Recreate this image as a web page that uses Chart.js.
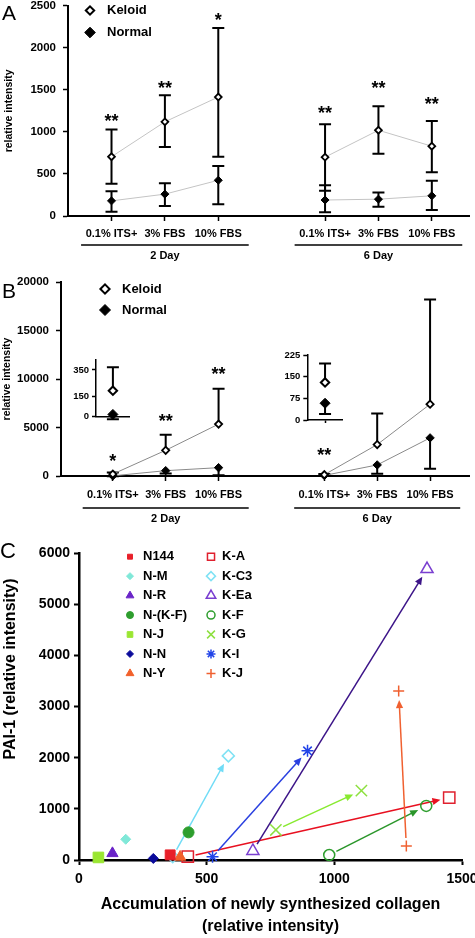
<!DOCTYPE html>
<html>
<head>
<meta charset="utf-8">
<title>Keloid vs normal fibroblasts</title>
<script src="https://cdn.jsdelivr.net/npm/chart.js@4.4.1/dist/chart.umd.min.js"></script>
<style>
  html, body { margin: 0; padding: 0; background: #fff; }
  #wrap { position: relative; width: 475px; height: 938px; overflow: hidden; }
  canvas { position: absolute; }
</style>
</head>
<body>
<div id="wrap">
  <canvas id="panelA" width="475" height="265" style="left:0;top:0"></canvas>
  <canvas id="panelB" width="475" height="265" style="left:0;top:265px"></canvas>
  <canvas id="insetB2" width="80" height="72" style="left:56px;top:352px"></canvas>
  <canvas id="insetB6" width="82" height="80" style="left:267px;top:348px"></canvas>
  <canvas id="panelC" width="475" height="408" style="left:0;top:530px"></canvas>
</div>
<script>
// ---------- DATA ----------
const conditions = ["0.1% ITS+", "3% FBS", "10% FBS"];
const dayGroups = ["2 Day", "6 Day"];
const xSlots = [0, 1, 2, 4, 5, 6];   // slot 3 left empty between the day groups
const groupSlots = [[0, 2], [4, 6]];

// panel A
const aTicks = [0, 500, 1000, 1500, 2000, 2500];
const aKeloid   = [705, 1120, 1415, 700, 1020, 830];
const aKeloidHi = [1030, 1435, 2235, 1090, 1305, 1130];
const aKeloidLo = [385, 820, 705, 300, 740, 520];
const aNormal   = [180, 260, 425, 190, 200, 240];
const aNormalHi = [295, 390, 595, 365, 280, 420];
const aNormalLo = [50, 120, 140, 45, 110, 70];
const aStars = ["**", "**", "*", "**", "**", "**"];
const aStarY = [1175, 1575, 2380, 1270, 1575, 1375];

// panel B (insets re-plot the 0.1% ITS+ points)
const bTicks = [0, 5000, 10000, 15000, 20000];
const bKeloid   = [195, 2650, 5350, 130, 3240, 7400];
const bKeloidHi = [370, 4240, 9000, 196, 6450, 18200];
const bNormal   = [17, 550, 860, 58, 1140, 3930];
const bNormalLo = [-20, 250, 70, 21, 240, 760];
const bStars = ["*", "**", "**", "**", "", ""];
const bStarY = [1960, 6080, 10930, 2580, null, null];
const inset2Ticks = [0, 150, 350];
const inset6Ticks = [0, 75, 150, 225];

// panel C
const cXTicks = [0, 500, 1000, 1500];
const cYTicks = [0, 1000, 2000, 3000, 4000, 5000, 6000];
const normalNames = ["N144", "N-M", "N-R", "N-(K-F)", "N-J", "N-N", "N-Y"];
const normalX = [357, 183, 131, 429, 76, 291, 396];
const normalY = [100, 405, 130, 540, 50, 30, 60];
const keloidNames = ["K-A", "K-C3", "K-Ea", "K-F", "K-G", "K-I", "K-J"];
const keloidLowX  = [426, 367, 681, 980, 771, 523, 1282];
const keloidLowY  = [65, 65, 176, 98, 587, 65, 274];
const keloidHighX = [1450, 585, 1363, 1360, 1106, 895, 1252];
const keloidHighY = [1218, 2035, 5687, 1057, 1356, 2133, 3301];

// ---------- STYLE ----------
const FAMILY = "Arial, 'Liberation Sans', Helvetica, sans-serif";
Chart.defaults.font.family = FAMILY;
Chart.defaults.color = "#000";
Chart.defaults.animation = false;
const bold = size => ({ size, weight: "bold" });
const plain = v => String(v);

const normalStyle = ["rect", "rectRot", "triangle", "circle", "rect", "rectRot", "triangle"];
const normalColor = ["#e8202a", "#80e8d8", "#6a24c8", "#2e9e2e", "#9ae632", "#0a0a9a", "#f2602a"];
const normalSize = [7, 5, 6.5, 5.5, 7.5, 5, 6.5];
const normalLegSize = [3.5, 3.5, 4.5, 3.5, 4, 3.5, 4.5];
const keloidStyle = ["rect", "rectRot", "triangle", "circle", "crossRot", "star", "cross"];
const keloidColor = ["#e0202e", "#80e2f4", "#7a3fd0", "#2e9e2e", "#8ee040", "#2244e8", "#f06030"];
const arrowColor = ["#e81020", "#70dcf6", "#3c1488", "#2a962a", "#88ea30", "#2a40e0", "#f06030"];
const keloidSize = [8, 6, 7, 5.5, 8, 6, 5.5];
const keloidLegSize = [5, 4.5, 5.5, 4, 5.5, 4.5, 4.5];

// ---------- HELPERS ----------
function errorBars(ctx, xs, ys, xv, mean, hi, lo, cap, width) {
  ctx.save();
  ctx.strokeStyle = "#000";
  ctx.lineWidth = width;
  xv.forEach((v, i) => {
    const px = xs.getPixelForValue(v);
    const yTop = ys.getPixelForValue(hi ? hi[i] : mean[i]);
    const yBot = ys.getPixelForValue(lo ? lo[i] : mean[i]);
    ctx.beginPath();
    ctx.moveTo(px, yTop); ctx.lineTo(px, yBot);
    if (hi) { ctx.moveTo(px - cap, yTop); ctx.lineTo(px + cap, yTop); }
    if (lo) { ctx.moveTo(px - cap, yBot); ctx.lineTo(px + cap, yBot); }
    ctx.stroke();
  });
  ctx.restore();
}

function marker(ctx, style, r, x, y, fill, stroke, bw) {
  ctx.save();
  ctx.fillStyle = fill; ctx.strokeStyle = stroke; ctx.lineWidth = bw;
  Chart.helpers.drawPoint(ctx, { pointStyle: style, radius: r, rotation: 0, borderWidth: bw }, x, y);
  ctx.restore();
}

function seriesPoints(vals) {
  const out = [];
  xSlots.forEach((x, i) => {
    if (i === 3) out.push({ x: 3, y: null });
    out.push({ x, y: vals[i] });
  });
  return out;
}

function fixedTicks(list) {
  return s => { s.ticks = list.map(v => ({ value: v })); };
}

// ---------- PANELS A / B ----------
function abDecor(p) {
  return {
    id: "abDecor",
    beforeDatasetsDraw(chart) {
      const { ctx, scales: { x, y } } = chart;
      errorBars(ctx, x, y, xSlots, p.keloid, p.keloidHi, p.keloidLo, 6, 2);
      errorBars(ctx, x, y, xSlots, p.normal, p.normalHi, p.normalLo, 6, 2);
    },
    afterDraw(chart) {
      const { ctx, chartArea, scales: { x, y } } = chart;
      ctx.save();
      ctx.fillStyle = "#000";
      ctx.strokeStyle = "#000";

      ctx.font = "bold 18px " + FAMILY;
      ctx.textAlign = "center";
      ctx.textBaseline = "alphabetic";
      p.stars.forEach((s, i) => {
        if (!s) return;
        ctx.fillText(s, x.getPixelForValue(xSlots[i]), y.getPixelForValue(p.starY[i]) + 10);
      });

      ctx.lineWidth = 1.5;
      ctx.font = "bold 11px " + FAMILY;
      ctx.textBaseline = "middle";
      groupSlots.forEach((g, k) => {
        const x0 = x.getPixelForValue(g[0] - 0.57);
        const x1 = x.getPixelForValue(g[1] + 0.57);
        const yl = chartArea.bottom + p.bracketY;
        ctx.beginPath(); ctx.moveTo(x0, yl); ctx.lineTo(x1, yl); ctx.stroke();
        ctx.fillText(dayGroups[k], (x0 + x1) / 2, chartArea.bottom + p.groupLabelY);
      });

      const L = p.legend;
      marker(ctx, "rectRot", L.kr, L.x, L.y1, "#fff", "#000", 2);
      marker(ctx, "rectRot", L.nr, L.x, L.y2, "#000", "#000", 1);
      ctx.fillStyle = "#000";
      ctx.font = "bold 13px " + FAMILY;
      ctx.textAlign = "left";
      ctx.fillText("Keloid", L.tx, L.y1);
      ctx.fillText("Normal", L.tx, L.y2);

      ctx.font = "21px " + FAMILY;
      ctx.textBaseline = "alphabetic";
      ctx.fillText(p.letter, 2, p.letterY);
      ctx.restore();
    }
  };
}

function buildPanel(p) {
  return new Chart(document.getElementById(p.canvas), {
    type: "line",
    data: {
      datasets: [
        { label: "Keloid", data: seriesPoints(p.keloid), borderColor: p.lineColor, borderWidth: 1,
          pointStyle: "rectRot", pointRadius: p.kr, pointBorderWidth: 1.8, pointBorderColor: "#000",
          pointBackgroundColor: "#fff", spanGaps: false, clip: false },
        { label: "Normal", data: seriesPoints(p.normal), borderColor: p.lineColor, borderWidth: 1,
          pointStyle: "rectRot", pointRadius: p.nr, pointBorderWidth: 1, pointBorderColor: "#000",
          pointBackgroundColor: "#000", spanGaps: false, clip: false }
      ]
    },
    options: {
      responsive: false,
      layout: { padding: { top: p.top, right: 1, left: 0, bottom: 0 } },
      plugins: { legend: { display: false }, tooltip: { enabled: false } },
      scales: {
        x: {
          type: "linear", min: p.xMin, max: p.xMax,
          afterBuildTicks: fixedTicks(xSlots),
          afterFit: s => { s.height = p.xAxisH; s.paddingLeft = 0; s.paddingRight = 0; },
          ticks: { callback: v => conditions[xSlots.indexOf(v) % 3], font: bold(11), color: "#000",
                   padding: p.labelPad, maxRotation: 0, autoSkip: false },
          grid: { drawOnChartArea: false, tickLength: 5, tickColor: "#000", tickWidth: 1.5 },
          border: { color: "#000", width: 2 }
        },
        y: {
          min: 0, max: p.yTicks[p.yTicks.length - 1],
          afterBuildTicks: fixedTicks(p.yTicks),
          afterFit: s => { s.width = p.yAxisW; s.paddingTop = 0; s.paddingBottom = 0; },
          ticks: { callback: plain, font: bold(11.5), color: "#000", padding: 7 },
          title: { display: true, text: "relative intensity", font: bold(10.5), color: "#000",
                   padding: { top: p.titlePad, bottom: 0 } },
          grid: { drawOnChartArea: false, tickLength: 5, tickColor: "#000", tickWidth: 1.5 },
          border: { color: "#000", width: 2 }
        }
      }
    },
    plugins: [abDecor(p)]
  });
}

buildPanel({
  canvas: "panelA", letter: "A", letterY: 20,
  keloid: aKeloid, keloidHi: aKeloidHi, keloidLo: aKeloidLo,
  normal: aNormal, normalHi: aNormalHi, normalLo: aNormalLo,
  stars: aStars, starY: aStarY, yTicks: aTicks,
  xMin: -0.815, xMax: 6.70, yAxisW: 68, top: 5, xAxisH: 49, labelPad: 6,
  lineColor: "#c4c4c4", kr: 3.4, nr: 4,
  legend: { x: 90, y1: 10.5, y2: 32.5, tx: 107, kr: 4.2, nr: 5.3 },
  bracketY: 29, groupLabelY: 40, titlePad: 2.5
});

buildPanel({
  canvas: "panelB", letter: "B", letterY: 33,
  keloid: bKeloid, keloidHi: bKeloidHi, keloidLo: null,
  normal: bNormal, normalHi: null, normalLo: bNormalLo,
  stars: bStars, starY: bStarY, yTicks: bTicks,
  xMin: -0.98, xMax: 6.74, yAxisW: 61, top: 17, xAxisH: 54, labelPad: 7,
  lineColor: "#8a8a8a", kr: 3.6, nr: 4.2,
  legend: { x: 105, y1: 24, y2: 45, tx: 122, kr: 4.6, nr: 5.5 },
  bracketY: 32, groupLabelY: 43, titlePad: 1
});

// ---------- INSETS ----------
function buildInset(id, idx, ticks, max, pad) {
  return new Chart(document.getElementById(id), {
    type: "scatter",
    data: {
      datasets: [
        { data: [{ x: 0, y: bKeloid[idx] }], pointStyle: "rectRot", pointRadius: 4.2, pointBorderWidth: 2,
          pointBorderColor: "#000", pointBackgroundColor: "#fff", clip: false },
        { data: [{ x: 0, y: bNormal[idx] }], pointStyle: "rectRot", pointRadius: 5, pointBorderWidth: 1,
          pointBorderColor: "#000", pointBackgroundColor: "#000", clip: false }
      ]
    },
    options: {
      responsive: false,
      layout: { padding: { top: pad.top, right: 2, left: 0, bottom: 0 } },
      plugins: { legend: { display: false }, tooltip: { enabled: false } },
      scales: {
        x: {
          type: "linear", min: -1, max: 1,
          afterBuildTicks: fixedTicks([0]),
          afterFit: s => { s.height = pad.xh; s.paddingLeft = 0; s.paddingRight = 0; },
          ticks: { display: false },
          grid: { drawOnChartArea: false, tickLength: 3, tickColor: "#000", tickWidth: 1.5 },
          border: { color: "#000", width: 1.5 }
        },
        y: {
          min: 0, max,
          afterBuildTicks: fixedTicks(ticks),
          afterFit: s => { s.width = pad.yw; s.paddingTop = 0; s.paddingBottom = 0; },
          ticks: { callback: plain, font: bold(9.5), color: "#000", padding: 3 },
          grid: { drawOnChartArea: false, tickLength: 4, tickColor: "#000", tickWidth: 1.5 },
          border: { color: "#000", width: 1.5 }
        }
      }
    },
    plugins: [{
      id: "insetBars",
      beforeDatasetsDraw(chart) {
        const { ctx, scales: { x, y } } = chart;
        errorBars(ctx, x, y, [0], [bKeloid[idx]], [bKeloidHi[idx]], null, 6, 2);
        errorBars(ctx, x, y, [0], [bNormal[idx]], null, [bNormalLo[idx]], 6, 2);
      }
    }]
  });
}

buildInset("insetB2", 0, inset2Ticks, 430, { top: 7.3, xh: 7.3, yw: 40 });
buildInset("insetB6", 3, inset6Ticks, 225, { top: 7, xh: 8, yw: 40.3 });

// ---------- PANEL C ----------
const normalSets = normalNames.map((n, i) => ({
  label: n, data: [{ x: normalX[i], y: normalY[i] }],
  pointStyle: normalStyle[i], pointRadius: normalSize[i], pointBorderWidth: 1,
  pointBackgroundColor: normalColor[i], pointBorderColor: normalColor[i], clip: false
}));
const keloidSets = keloidNames.map((n, i) => ({
  label: n, data: [{ x: keloidLowX[i], y: keloidLowY[i] }, { x: keloidHighX[i], y: keloidHighY[i] }],
  pointStyle: keloidStyle[i], pointRadius: keloidSize[i], pointBorderWidth: 1.5,
  pointBackgroundColor: "rgba(0,0,0,0)", pointBorderColor: keloidColor[i], clip: false
}));

const cDecor = {
  id: "cDecor",
  beforeDatasetsDraw(chart) {
    const { ctx, scales: { x, y } } = chart;
    ctx.save();
    keloidNames.forEach((n, i) => {
      const x0 = x.getPixelForValue(keloidLowX[i]), y0 = y.getPixelForValue(keloidLowY[i]);
      const x1 = x.getPixelForValue(keloidHighX[i]), y1 = y.getPixelForValue(keloidHighY[i]);
      const len = Math.hypot(x1 - x0, y1 - y0);
      const ux = (x1 - x0) / len, uy = (y1 - y0) / len;
      const sx = x0 + ux * 8, sy = y0 + uy * 8;
      const tx = x1 - ux * 9, ty = y1 - uy * 9;
      const bx = tx - ux * 8, by = ty - uy * 8;
      ctx.strokeStyle = arrowColor[i];
      ctx.fillStyle = arrowColor[i];
      ctx.lineWidth = 1.5;
      ctx.beginPath(); ctx.moveTo(sx, sy); ctx.lineTo(bx + ux * 2, by + uy * 2); ctx.stroke();
      ctx.beginPath();
      ctx.moveTo(tx, ty);
      ctx.lineTo(bx - uy * 3.6, by + ux * 3.6);
      ctx.lineTo(bx + uy * 3.6, by - ux * 3.6);
      ctx.closePath(); ctx.fill();
    });
    ctx.restore();
  },
  afterDraw(chart) {
    const { ctx } = chart;
    ctx.save();
    ctx.font = "bold 13px " + FAMILY;
    ctx.textAlign = "left";
    ctx.textBaseline = "middle";
    normalNames.forEach((n, i) => {
      const ly = 26.7 + i * 19.45;
      marker(ctx, normalStyle[i], normalLegSize[i], 130, ly, normalColor[i], normalColor[i], 1);
      marker(ctx, keloidStyle[i], keloidLegSize[i], 211, ly, "rgba(0,0,0,0)", keloidColor[i], 1.5);
      ctx.fillStyle = "#000";
      ctx.fillText(n, 143, ly);
      ctx.fillText(keloidNames[i], 222, ly);
    });

    ctx.save();
    ctx.translate(11, 139);
    ctx.rotate(-Math.PI / 2);
    ctx.textAlign = "center";
    ctx.font = "bold 16px " + FAMILY;
    ctx.fillText("PAI-1 (relative intensity)", 0, 0);
    ctx.restore();

    ctx.font = "22px " + FAMILY;
    ctx.textBaseline = "alphabetic";
    ctx.fillText("C", 0, 28);
    ctx.restore();
  }
};

new Chart(document.getElementById("panelC"), {
  type: "scatter",
  data: { datasets: [...normalSets, ...keloidSets] },
  options: {
    responsive: false,
    layout: { padding: { top: 23, right: 13, left: 0, bottom: 0 } },
    plugins: { legend: { display: false }, tooltip: { enabled: false } },
    scales: {
      x: {
        type: "linear", min: 0, max: 1500,
        afterBuildTicks: fixedTicks(cXTicks),
        afterFit: s => { s.height = 78; s.paddingLeft = 0; s.paddingRight = 0; },
        ticks: { callback: plain, font: bold(14), color: "#000", padding: 6, maxRotation: 0 },
        title: { display: true, text: ["Accumulation of newly synthesized collagen", "(relative intensity)"],
                 font: { size: 16, weight: "bold", lineHeight: 1.375 }, color: "#000",
                 padding: { top: 0, bottom: 0 } },
        grid: { drawOnChartArea: false, tickLength: 5, tickColor: "#000", tickWidth: 2 },
        border: { color: "#000", width: 2.5 }
      },
      y: {
        min: 0, max: 6000,
        afterBuildTicks: fixedTicks(cYTicks),
        afterFit: s => { s.width = 79; s.paddingTop = 0; s.paddingBottom = 0; },
        ticks: { callback: plain, font: bold(14), color: "#000", padding: 4 },
        grid: { drawOnChartArea: false, tickLength: 5, tickColor: "#000", tickWidth: 2 },
        border: { color: "#000", width: 2.5 }
      }
    }
  },
  plugins: [cDecor]
});
</script>
</body>
</html>
